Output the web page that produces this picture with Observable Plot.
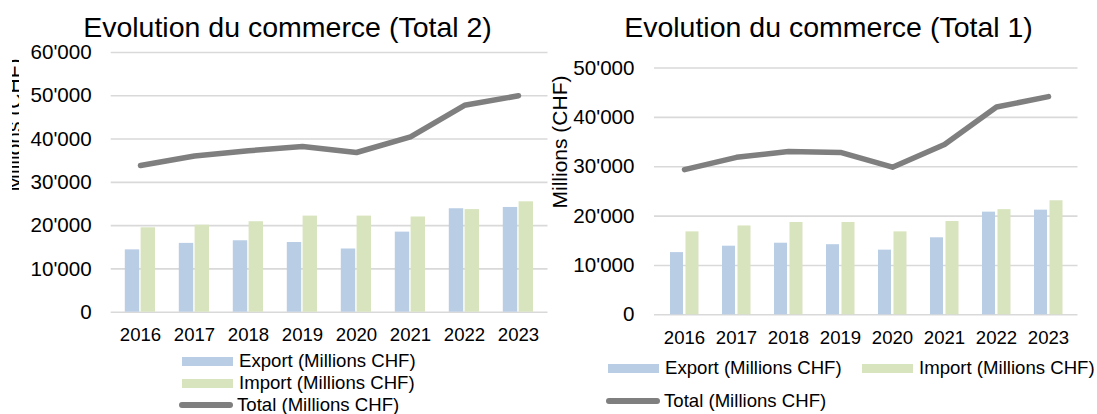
<!DOCTYPE html>
<html>
<head>
<meta charset="utf-8">
<script src="https://cdn.jsdelivr.net/npm/d3@7"></script>
<script src="https://cdn.jsdelivr.net/npm/@observablehq/plot@0.6"></script>
<style>
  html, body { margin: 0; padding: 0; background: #fff; }
  body { font-family: "Liberation Sans", Arial, sans-serif; color: #000; }
  #root { position: relative; width: 1097px; height: 414px; overflow: hidden; background: #fff; }
  .panel { position: absolute; top: 0; height: 414px; overflow: hidden; }
  .title { position: absolute; font-size: 28.5px; line-height: 28.5px; white-space: nowrap; transform: translateX(-50%); }
  .clip { position: absolute; overflow: hidden; top: 0; height: 414px; }
  .ytitle { position: absolute; writing-mode: vertical-rl; white-space: nowrap; transform: translateY(-50%) rotate(180deg); }
  .item { position: absolute; display: flex; align-items: center; height: 22px; font-size: 18.6px; white-space: nowrap; }
  .sw { width: 51px; height: 9px; margin-right: 6px; }
  .ln { width: 54px; height: 6px; border-radius: 3px; background: #7f7f7f; margin-right: 4px; }
  .plotbox { position: absolute; }
</style>
</head>
<body>
<div id="root"></div>
<script>
// ---------- data ----------
const years = ["2016", "2017", "2018", "2019", "2020", "2021", "2022", "2023"];

// Chart "Total 2" (left)
const export2 = [14400, 15900, 16500, 16100, 14600, 18500, 23900, 24200];
const import2 = [19500, 20100, 20900, 22200, 22200, 22000, 23700, 25500];
const total2  = [33900, 36100, 37300, 38300, 36900, 40500, 47800, 50000];
const yTicks2 = [0, 10000, 20000, 30000, 40000, 50000, 60000];

// Chart "Total 1" (right)
const export1 = [12600, 13900, 14500, 14200, 13100, 15600, 20800, 21200];
const import1 = [16800, 18000, 18700, 18700, 16800, 18900, 21300, 23100];
const total1  = [29400, 31900, 33100, 32900, 29900, 34500, 42100, 44200];
const yTicks1 = [0, 10000, 20000, 30000, 40000, 50000];

const titles = ["Evolution du commerce (Total 2)", "Evolution du commerce (Total 1)"];
const yTitle = "Millions (CHF)";
const seriesNames = ["Export (Millions CHF)", "Import (Millions CHF)", "Total (Millions CHF)"];

// ---------- styles ----------
const C_EXP = "#b9cde5", C_IMP = "#d7e4bd", C_TOT = "#7f7f7f", C_GRID = "#d9d9d9";
const fmt = d => d === 0 ? "0" : d3.format(",")(d).replace(/,/g, "'");

function makeChart(o) {
  const rows = years.map((y, i) => ({year: y, exp: o.exp[i], imp: o.imp[i], tot: o.tot[i]}));
  const svg = Plot.plot({
    width: o.width, height: o.height,
    marginLeft: o.ml, marginRight: o.mr, marginTop: o.mt, marginBottom: o.mb,
    style: {fontFamily: '"Liberation Sans", Arial, sans-serif', fontSize: "18.6px", color: "#000", background: "transparent", overflow: "visible"},
    x: {domain: years, padding: 0, label: null, tickSize: 0, tickPadding: 15.5},
    y: {domain: [0, o.max], ticks: o.ticks, tickFormat: fmt, label: null, tickSize: 0, tickPadding: o.ytp},
    marks: [
      Plot.ruleY(o.ticks, {stroke: C_GRID, strokeWidth: 1.6}),
      Plot.barY(rows, {x: "year", y: "exp", fill: C_EXP, insetLeft: o.eL, insetRight: o.eR}),
      Plot.barY(rows, {x: "year", y: "imp", fill: C_IMP, insetLeft: o.iL, insetRight: o.iR}),
      Plot.line(rows, {x: "year", y: "tot", stroke: C_TOT, strokeWidth: 5.5, strokeLinecap: "round", strokeLinejoin: "round"})
    ]
  });
  d3.select(svg).selectAll('g[aria-label^="y-axis"]').style("font-size", "20.6px");
  d3.select(svg).selectAll('g[aria-label^="y-axis"] text').style("font-size", "20.6px");
  return svg;
}

const root = document.getElementById("root");

function panel(left, width) {
  const p = document.createElement("div");
  p.className = "panel";
  p.style.left = left + "px";
  p.style.width = width + "px";
  root.appendChild(p);
  return p;
}
function addTitle(p, text, cx, top) {
  const t = document.createElement("div");
  t.className = "title"; t.textContent = text;
  t.style.left = cx + "px"; t.style.top = top + "px";
  p.appendChild(t);
}
function addYTitle(p, clipLeft, clipWidth, innerLeft, cy, fs) {
  const c = document.createElement("div");
  c.className = "clip"; c.style.left = clipLeft + "px"; c.style.width = clipWidth + "px";
  const t = document.createElement("div");
  t.className = "ytitle"; t.textContent = yTitle;
  t.style.left = innerLeft + "px"; t.style.top = cy + "px";
  t.style.fontSize = fs + "px"; t.style.lineHeight = fs + "px";
  c.appendChild(t); p.appendChild(c);
}
function addItem(p, kind, color, label, left, cy) {
  const it = document.createElement("div");
  it.className = "item"; it.style.left = left + "px"; it.style.top = (cy - 11) + "px";
  const s = document.createElement("div");
  if (kind === "bar") { s.className = "sw"; s.style.background = color; } else { s.className = "ln"; }
  const tx = document.createElement("span"); tx.textContent = label;
  it.appendChild(s); it.appendChild(tx); p.appendChild(it);
}

// ----- left panel -----
const pL = panel(0, 550);
addTitle(pL, titles[0], 287.5, 13.4);
addYTitle(pL, 12, 7, -9, 125, 21);
const boxL = document.createElement("div"); boxL.className = "plotbox"; boxL.style.left = "0px"; boxL.style.top = "45px";
boxL.appendChild(makeChart({exp: export2, imp: import2, tot: total2, ticks: yTicks2, max: 60000,
  width: 550, height: 300, ml: 110.7, mr: 2.5, mt: 7, mb: 33.3, ytp: 19.5,
  eL: 11.8, eR: 27.8, iL: 27.6, iR: 12.0}));
pL.appendChild(boxL);
addItem(pL, "bar", C_EXP, seriesNames[0], 182, 361);
addItem(pL, "bar", C_IMP, seriesNames[1], 182, 383);
addItem(pL, "line", C_TOT, seriesNames[2], 179, 405);

// ----- right panel -----
const pR = panel(550, 547);
addTitle(pR, titles[1], 278.5, 13.4);
addYTitle(pR, 0, 40, -1.5, 142, 21);
const boxR = document.createElement("div"); boxR.className = "plotbox"; boxR.style.left = "0px"; boxR.style.top = "45px";
boxR.appendChild(makeChart({exp: export1, imp: import1, tot: total1, ticks: yTicks1, max: 50000,
  width: 547, height: 300, ml: 104, mr: 19.5, mt: 22.5, mb: 30.7, ytp: 20,
  eL: 12, eR: 27, iL: 27.5, iR: 11.5}));
pR.appendChild(boxR);
addItem(pR, "bar", C_EXP, seriesNames[0], 58, 368);
addItem(pR, "bar", C_IMP, seriesNames[1], 312, 368);
addItem(pR, "line", C_TOT, seriesNames[2], 56, 401);
</script>
</body>
</html>
